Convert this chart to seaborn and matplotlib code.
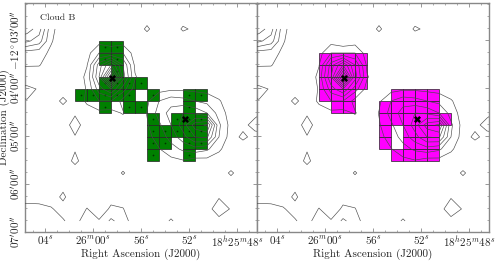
import numpy as np
import seaborn as sns
import matplotlib.pyplot as plt
from matplotlib.ticker import MultipleLocator

# map pixels: RA in seconds past 18h25m, Dec in arcsec south of -12d00m00s
green_ra = [59, 58, 59, 58, 58, 59, 58, 57, 56,
            61, 60, 59, 58, 57, 55, 52, 51,
            59, 57, 56, 52, 55, 53, 52, 51,
            55, 54, 53, 52, 51, 55, 54, 52, 51, 55, 52]
green_dec = [189, 189, 204, 204, 219, 234, 234, 234, 234,
             249, 249, 249, 249, 249, 249, 249, 249,
             264, 264, 264, 264, 279, 279, 279, 279,
             294, 294, 294, 294, 294, 309, 309, 309, 309, 324, 324]

magenta_ra = [60, 59, 58, 57, 60, 59, 58, 57, 60, 59, 58, 57,
              60, 59, 58, 54, 53, 52, 51,
              59, 58, 55, 54, 53, 52, 51,
              55, 54, 53, 52, 51, 50,
              55, 53, 52, 51, 55, 53, 52, 51, 54, 53, 52, 51]
magenta_dec = [204, 204, 204, 204, 219, 219, 219, 219, 234, 234, 234, 234,
               249, 249, 249, 249, 249, 249, 249,
               264, 264, 264, 264, 264, 264, 264,
               279, 279, 279, 279, 279, 279,
               294, 294, 294, 294, 309, 309, 309, 309, 324, 324, 324, 324]

star_ra = [58.45, 52.35]
star_dec = [227.5, 279.0]

# integrated emission map (contoured), rows north to south, columns east to west
ra_grid = np.arange(66.5, 45.0, -1.0)
dec_grid = np.arange(151.5, 407.0, 15.0)
nan = np.nan
flux = np.array([
    [nan, nan, nan, nan, nan, .3, .3, .3, .2, .3, .3, .5, .3, .3, .5, .3, .3, .3, .3, .3, .3, .3],
    [6.0, 5.5, 4.5, 1.3, .4, .3, .3, .3, .2, .3, .3, 1.2, .3, .3, 1.15, .8, .3, .3, .3, .3, .3, .3],
    [4.5, 4.2, 3.5, 1.1, .4, .3, .3, .6, .2, .5, .2, .3, .3, .3, .3, .3, .3, .3, .3, .3, .3, .3],
    [1.6, 1.5, 1.4, .8, .4, .2, .6, 2.0, 2.0, 2.0, .5, .3, .3, .3, .3, .3, .3, .3, .3, .3, .3, .3],
    [1.2, 1.1, 1.05, .6, .3, .2, .95, 4.5, 7.0, 4.0, .8, .3, .3, .3, .3, .3, .3, .3, .3, .3, .3, .3],
    [.5, .2, .5, .4, .3, .2, 1.3, 5.0, 11.0, 4.5, 1.1, .3, .3, .4, .5, .5, .4, .3, .2, .3, .3, .3],
    [1.2, 1.3, .9, .4, .3, .2, 1.1, 3.5, 5.0, 2.5, .6, .3, .6, .8, .8, .7, .6, .4, .2, .3, .3, .3],
    [.9, .95, .4, .3, 1.3, .3, 1.2, 2.0, 2.0, .6, .4, .8, 2.0, 2.6, 2.4, 2.0, 1.7, 1.1, .4, .3, .3, .3],
    [.3, .3, .3, .3, .3, .8, .5, .7, .6, 1.1, .2, 1.05, 2.4, 3.4, 4.0, 3.8, 3.0, 1.6, .5, .3, .7, 1.2],
    [.3, .3, .3, .3, .3, 1.6, .3, .3, .3, .3, .3, .9, 1.8, 3.0, 4.5, 6.5, 7.2, 2.2, .6, .7, 1.4, 1.8],
    [.3, .3, .3, .3, .3, .9, .3, .3, .3, .3, .3, .7, 1.4, 2.4, 3.6, 5.0, 5.2, 2.0, .5, 1.25, .6, .6],
    [.3, .3, .3, .3, .3, .9, .3, .3, .3, .3, .3, .4, .95, 1.6, 2.2, 2.6, 2.2, 1.2, .3, .3, .3, .3],
    [.3, .3, .3, .3, .3, 1.3, .3, .3, .3, .3, .3, .2, .5, .7, .9, .5, .6, .4, .2, .3, .3, .3],
    [.3, .3, .3, .3, .3, .3, .3, .3, .3, 1.12, .3, .3, .3, .3, .3, .3, .3, .3, 1.2, .3, .3, .3],
    [.3, .3, .3, .3, .7, .3, .3, .3, .3, .3, .3, .3, .3, .3, .3, .3, .3, .3, .3, .3, .3, .3],
    [.6, .6, .6, .5, 1.2, .3, .4, .2, .6, .5, .3, .3, .3, .3, .3, .3, .3, .9, .95, .3, .3, .3],
    [1.4, 1.35, 1.3, 1.1, .6, .3, 1.05, .3, 1.2, 1.05, .2, .3, .3, .3, .3, .3, .5, 1.7, .9, .3, .3, .3],
    [1.8, 1.8, 1.7, 1.6, 1.1, .5, 1.8, 1.1, 2.2, 1.5, .4, .3, .3, 1.15, .3, .3, .9, .6, .3, .3, .3, .3],
])
levels = np.arange(1, 12)

xticks = [64, 60, 56, 52, 48]
xlabels = [r'$04^s$', r'$26^m00^s$', r'$56^s$', r'$52^s$', r'$18^h25^m48^s$']
yticks = [180, 240, 300, 360, 420]
ylabels = [r'$-12^\circ03^\prime00^{\prime\prime}$', r'$04^\prime00^{\prime\prime}$',
           r'$05^\prime00^{\prime\prime}$', r'$06^\prime00^{\prime\prime}$',
           r'$07^\prime00^{\prime\prime}$']

sns.set_style('ticks')
plt.rcParams['font.family'] = ['cmr10', 'DejaVu Serif']
plt.rcParams['mathtext.fontset'] = 'cm'
plt.rcParams['axes.formatter.use_mathtext'] = True
plt.rcParams['axes.unicode_minus'] = False

fig = plt.figure(figsize=(5.02, 2.62), dpi=100)
ax1 = fig.add_axes([25 / 502, 30 / 262, 232 / 502, 229 / 262])
ax2 = fig.add_axes([257 / 502, 30 / 262, 232 / 502, 229 / 262])


def draw_panel(ax, ras, decs, color, dots):
    ax.bar(np.array(ras), 15, width=1.0, bottom=np.array(decs) - 7.5,
           color=color, edgecolor='#222222', linewidth=0.5, zorder=2)
    if dots:
        sns.scatterplot(x=ras, y=decs, ax=ax, s=1.5, color='#003300',
                        linewidth=0, zorder=3, legend=False)
    ax.contour(ra_grid, dec_grid, np.ma.masked_invalid(flux), levels=levels,
               colors='#4a4a4a', linewidths=0.45, zorder=4)
    sns.scatterplot(x=star_ra, y=star_dec, ax=ax, marker='X', s=26,
                    color='k', linewidth=0, zorder=5, legend=False)
    ax.set_xlim(65.67, 46.33)
    ax.set_ylim(420.3, 134)
    ax.set_xticks(xticks)
    ax.set_xticklabels(xlabels, fontsize=8)
    ax.set_yticks(yticks)
    ax.xaxis.set_minor_locator(MultipleLocator(1))
    ax.yaxis.set_minor_locator(MultipleLocator(15))
    ax.tick_params(which='both', direction='in', top=True, right=True,
                   color='#888888', pad=1.5)
    ax.tick_params(which='major', length=3, width=0.6)
    ax.tick_params(which='minor', length=1.5, width=0.5)
    for s in ax.spines.values():
        s.set_color('#888888')
        s.set_linewidth(1.0)
    ax.set_xlabel('Right Ascension (J2000)', fontsize=8, labelpad=0)


draw_panel(ax1, green_ra, green_dec, '#008000', True)
draw_panel(ax2, magenta_ra, magenta_dec, '#ff00ff', False)

ax1.set_yticklabels(ylabels, fontsize=8, rotation=90, va='center')
ax1.set_ylabel('Declination (J2000)', fontsize=8, labelpad=0)
ax2.set_yticklabels([])
ax1.text(0.065, 0.955, 'Cloud B', transform=ax1.transAxes, fontsize=7,
         va='top', ha='left')

fig.savefig('out.png', dpi=100)
